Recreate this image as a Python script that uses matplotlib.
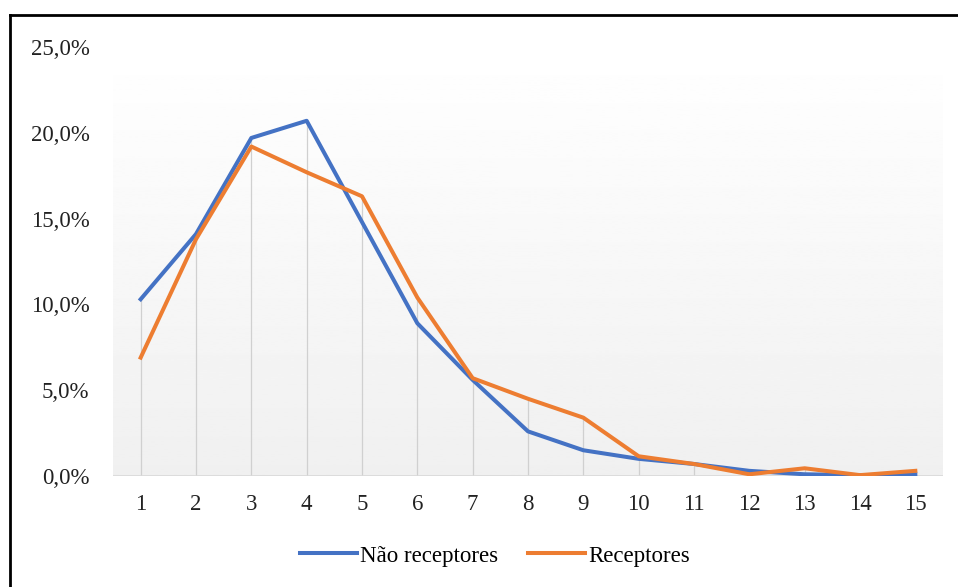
import numpy as np
import matplotlib
matplotlib.use("Agg")
import matplotlib.pyplot as plt
from matplotlib.lines import Line2D
from matplotlib.ticker import FuncFormatter

plt.rcParams['font.family'] = ['Liberation Serif', 'DejaVu Serif']

# dados (em %)
categorias = list(range(1, 16))
nao_receptores = [10.3, 14.1, 19.7, 20.7, 14.8, 8.9, 5.6, 2.6, 1.5, 1.0, 0.7, 0.3, 0.1, 0.05, 0.1]
receptores = [6.9, 13.8, 19.2, 17.7, 16.3, 10.4, 5.7, 4.5, 3.4, 1.15, 0.7, 0.1, 0.45, 0.05, 0.3]

cor_azul = '#4472C4'
cor_laranja = '#ED7D31'

fig = plt.figure(figsize=(9.58, 5.87), dpi=100)
ax = fig.add_axes([113 / 958, 1 - 476 / 587, 830 / 958, 429 / 587])

x = np.array(categorias)
y1 = np.array(nao_receptores) / 100
y2 = np.array(receptores) / 100

ax.set_xlim(0.5, 15.5)
ax.set_ylim(0, 0.25)

# fundo em degradê (branco em cima, cinza claro embaixo)
grad = np.linspace(0.94, 1.0, 256).reshape(-1, 1)
ax.imshow(grad, extent=[0.5, 15.5, 0, 0.25], origin='lower', cmap='gray',
          vmin=0, vmax=1, aspect='auto', zorder=0)

# linhas de projeção
ax.vlines(x, 0, np.maximum(y1, y2), color='#d0d0d0', lw=0.9, zorder=1)
ax.axhline(0, color='#d9d9d9', lw=1.2, zorder=1)

ax.plot(x, y1, color=cor_azul, lw=2.9, zorder=3, solid_joinstyle='round')
ax.plot(x, y2, color=cor_laranja, lw=2.9, zorder=4, solid_joinstyle='round')

ax.set_xticks(x)
ax.set_xticklabels([str(c) for c in categorias])
ax.set_yticks(np.arange(0, 0.26, 0.05))
ax.yaxis.set_major_formatter(FuncFormatter(lambda v, p: f"{v * 100:.1f}%".replace('.', ',')))
ax.tick_params(length=0, labelsize=16.5, colors='#222222')
ax.tick_params(axis='y', pad=17)
ax.tick_params(axis='x', pad=13)
for s in ax.spines.values():
    s.set_visible(False)

handles = [Line2D([], [], color=cor_azul, lw=2.9), Line2D([], [], color=cor_laranja, lw=2.9)]
fig.legend(handles, ['Não receptores', 'Receptores'], loc='center',
           bbox_to_anchor=(495 / 958, 1 - 556 / 587), ncol=2, frameon=False,
           fontsize=16.5, handlelength=2.5, handletextpad=0.13, columnspacing=1.3)

# moldura preta (topo e esquerda)
fig.add_artist(Line2D([9.5 / 958, 1.0], [1 - 14.5 / 587, 1 - 14.5 / 587], color='black', lw=2.0,
                      transform=fig.transFigure))
fig.add_artist(Line2D([9.5 / 958, 9.5 / 958], [0, 1 - 14.5 / 587], color='black', lw=2.0,
                      transform=fig.transFigure))

fig.savefig('out.png', dpi=100)
